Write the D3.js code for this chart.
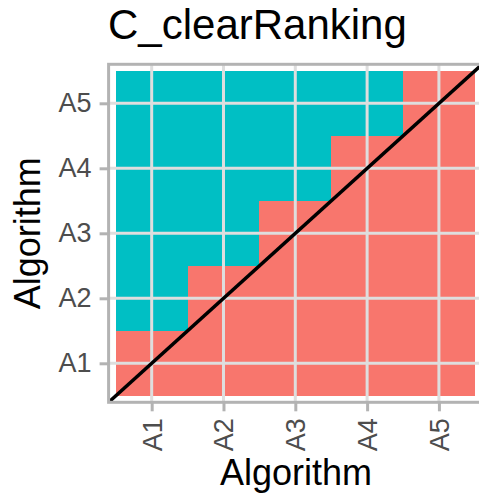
<!DOCTYPE html>
<html>
<head>
<meta charset="utf-8">
<script src="https://cdn.jsdelivr.net/npm/d3@7"></script>
<style>
  html, body { margin: 0; padding: 0; background: #fff; }
  svg text { font-family: "Liberation Sans", Arial, Helvetica, sans-serif; }
</style>
</head>
<body>
<svg id="chart" width="479" height="496"></svg>
<script>
'use strict';
// data
var chartTitle = 'C_clearRanking';
var axisTitle = 'Algorithm';
var algorithms = ['A1', 'A2', 'A3', 'A4', 'A5'];
// outcome[row][col]: row = y algorithm, col = x algorithm
// 1 = red cell, 0 = teal cell
var outcome = [
    [1, 1, 1, 1, 1],  // A1
    [0, 1, 1, 1, 1],  // A2
    [0, 0, 1, 1, 1],  // A3
    [0, 0, 0, 1, 1],  // A4
    [0, 0, 0, 0, 1]   // A5
];
var fillColors = ['#00BFC4', '#F8766D'];

var svg = d3.select('#chart');

var x = d3.scaleLinear().domain([0.4, 5.6]).range([108.6, 482]);
var y = d3.scaleLinear().domain([0.4, 5.6]).range([402.3, 64.3]);

var cells = [];
outcome.forEach(function(row, r){
    row.forEach(function(v, c){
        cells.push({col: c + 1, row: r + 1, value: v});
    });
});

var plot = svg.append('g');

plot.selectAll('.cell')
    .data(cells)
    .enter()
    .append('rect')
    .attr('class', 'cell')
    .attr('x', function(d){return x(d.col - 0.5);})
    .attr('y', function(d){return y(d.row + 0.5);})
    .attr('width', function(d){return x(d.col + 0.5) - x(d.col - 0.5);})
    .attr('height', function(d){return y(d.row - 0.5) - y(d.row + 0.5);})
    .attr('fill', function(d){return fillColors[d.value];})
    .attr('shape-rendering', 'crispEdges');

// grid lines on top of the tiles
var ticks = algorithms.map(function(a, i){return i + 1;});
plot.selectAll('.vgrid')
    .data(ticks)
    .enter()
    .append('line')
    .attr('x1', function(d){return x(d);})
    .attr('x2', function(d){return x(d);})
    .attr('y1', y(0.4))
    .attr('y2', y(5.6))
    .attr('stroke', '#DEDEDE')
    .attr('stroke-width', 3);
plot.selectAll('.hgrid')
    .data(ticks)
    .enter()
    .append('line')
    .attr('y1', function(d){return y(d);})
    .attr('y2', function(d){return y(d);})
    .attr('x1', x(0.4))
    .attr('x2', x(5.6))
    .attr('stroke', '#DEDEDE')
    .attr('stroke-width', 3);

// diagonal
svg.append('clipPath').attr('id', 'panel-clip')
    .append('rect')
    .attr('x', x(0.4)).attr('y', y(5.6))
    .attr('width', x(5.6) - x(0.4)).attr('height', y(0.4) - y(5.6));
plot.append('line')
    .attr('clip-path', 'url(#panel-clip)')
    .attr('x1', x(0.4)).attr('y1', y(0.4))
    .attr('x2', x(5.6)).attr('y2', y(5.6))
    .attr('stroke', '#000')
    .attr('stroke-width', 3.5);

// panel border
svg.append('rect')
    .attr('x', x(0.4)).attr('y', y(5.6))
    .attr('width', x(5.6) - x(0.4)).attr('height', y(0.4) - y(5.6))
    .attr('fill', 'none')
    .attr('stroke', '#B3B3B3')
    .attr('stroke-width', 3);

// axes
var fmt = function(d){return algorithms[d - 1];};
var xAxis = svg.append('g')
    .attr('transform', 'translate(0,' + y(0.4) + ')')
    .call(d3.axisBottom(x).tickValues(ticks).tickFormat(fmt).tickSize(9).tickPadding(7));
var yAxis = svg.append('g')
    .attr('transform', 'translate(' + x(0.4) + ',0)')
    .call(d3.axisLeft(y).tickValues(ticks).tickFormat(fmt).tickSize(9).tickPadding(8));

[xAxis, yAxis].forEach(function(ax){
    ax.select('.domain').remove();
    ax.selectAll('.tick line').attr('stroke', '#B3B3B3').attr('stroke-width', 3);
    ax.selectAll('.tick text')
        .attr('fill', '#4D4D4D')
        .attr('font-size', '27px');
});

xAxis.selectAll('.tick text')
    .attr('text-anchor', 'end')
    .attr('transform', 'rotate(-90)')
    .attr('x', -16)
    .attr('y', 0)
    .attr('dy', '0.35em');

// titles
svg.append('text')
    .text(chartTitle)
    .attr('x', 108)
    .attr('y', 39)
    .attr('font-size', '42px')
    .attr('fill', '#000');

svg.append('text')
    .text(axisTitle)
    .attr('x', 296)
    .attr('y', 485)
    .attr('text-anchor', 'middle')
    .attr('font-size', '36px')
    .attr('fill', '#000');

svg.append('text')
    .text(axisTitle)
    .attr('transform', 'translate(40,' + (y(0.4) + y(5.6)) / 2 + ') rotate(-90)')
    .attr('text-anchor', 'middle')
    .attr('font-size', '36px')
    .attr('fill', '#000');
</script>
</body>
</html>
